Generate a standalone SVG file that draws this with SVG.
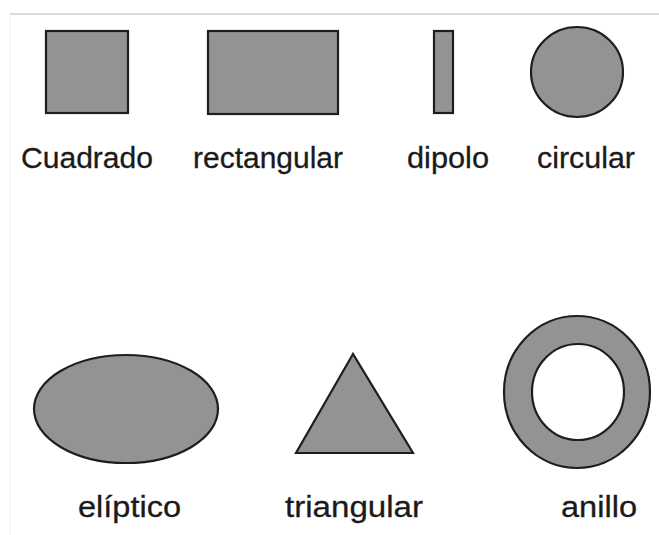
<svg xmlns="http://www.w3.org/2000/svg" width="659" height="535" viewBox="0 0 659 535">
<style>
.s{fill:#939393;stroke:#1e1e1e;stroke-width:2.2}
.t{font-family:"Liberation Sans",Arial,sans-serif;font-size:30px;fill:#1a1a1a;stroke:#1a1a1a;stroke-width:0.3}
</style>
<rect width="659" height="535" fill="#fff"/>
<line x1="10" y1="14" x2="659" y2="14" stroke="#cfcfcf" stroke-width="1.5"/>
<line x1="10" y1="14" x2="10" y2="535" stroke="#f0f0f0" stroke-width="1"/>
<g id="cuadrado">
<rect class="s" x="46" y="31" width="82" height="82"/>
<text class="t" x="21" y="168" textLength="132" lengthAdjust="spacingAndGlyphs">Cuadrado</text>
</g>
<g id="rectangular">
<rect class="s" x="208" y="31" width="130" height="83"/>
<text class="t" x="193" y="168" textLength="150" lengthAdjust="spacingAndGlyphs">rectangular</text>
</g>
<g id="dipolo">
<rect class="s" x="434" y="31" width="19" height="82"/>
<text class="t" x="407" y="168" textLength="82" lengthAdjust="spacingAndGlyphs">dipolo</text>
</g>
<g id="circular">
<ellipse class="s" cx="577" cy="72" rx="46" ry="45"/>
<text class="t" x="537" y="168" textLength="98" lengthAdjust="spacingAndGlyphs">circular</text>
</g>
<g id="eliptico">
<ellipse class="s" cx="126" cy="409" rx="92" ry="54"/>
<text class="t" x="78" y="517" textLength="103" lengthAdjust="spacingAndGlyphs">elíptico</text>
</g>
<g id="triangular">
<polygon class="s" points="353,354 296,453 413,453"/>
<text class="t" x="285" y="517" textLength="138" lengthAdjust="spacingAndGlyphs">triangular</text>
</g>
<g id="anillo">
<ellipse class="s" cx="577" cy="392" rx="73" ry="76"/>
<ellipse cx="578" cy="392" rx="46" ry="48" fill="#fff" stroke="#1e1e1e" stroke-width="2.2"/>
<text class="t" x="561" y="517" textLength="76" lengthAdjust="spacingAndGlyphs">anillo</text>
</g>
</svg>
